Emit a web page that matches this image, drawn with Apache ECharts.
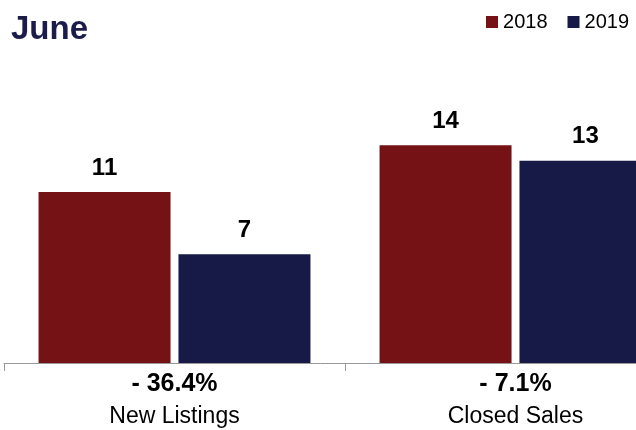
<!DOCTYPE html>
<html>
<head>
<meta charset="utf-8">
<script src="https://cdn.jsdelivr.net/npm/echarts@6/dist/echarts.min.js"></script>
<style>
  html, body { margin: 0; padding: 0; background: #fff; }
  #chart { width: 636px; height: 430px; }
</style>
</head>
<body>
<div id="chart"></div>
<script>
const categories = ["New Listings", "Closed Sales"];
const changes = ["- 36.4%", "- 7.1%"];
const values2018 = [11, 14];
const values2019 = [7, 13];

const chart = echarts.init(document.getElementById("chart"));

const valueLabel = {
  show: true,
  position: "top",
  distance: 12,
  color: "#000",
  fontSize: 24,
  fontWeight: "bold",
  fontFamily: "Liberation Sans, Arial, sans-serif",
};

const option = {
  animation: false,
  title: {
    text: "June",
    left: 6,
    top: 8,
    textStyle: {
      color: "#1b1c4a",
      fontSize: 33,
      fontWeight: "bold",
      fontFamily: "Liberation Sans, Arial, sans-serif",
    },
  },
  legend: {
    right: 2,
    top: 7,
    icon: "rect",
    itemWidth: 12,
    itemHeight: 12,
    itemGap: 20,
    textStyle: {
      color: "#000",
      fontSize: 20,
      fontFamily: "Liberation Sans, Arial, sans-serif",
    },
    data: ["2018", "2019"],
  },
  // grid runs past the right edge so the second group is cut off like the original
  grid: {
    left: 4,
    right: -50,
    top: 52,
    bottom: 67,
    outerBoundsMode: "none",
    containLabel: false,
  },
  xAxis: {
    type: "category",
    data: categories,
    axisLine: { lineStyle: { color: "#999", width: 1 } },
    axisTick: { show: true, length: 8, lineStyle: { color: "#999" } },
    axisLabel: {
      margin: 5,
      formatter: function (value, idx) {
        return "{a|" + changes[idx] + "}\n{b|" + value + "}";
      },
      rich: {
        a: {
          fontSize: 25,
          fontWeight: "bold",
          color: "#000",
          lineHeight: 32,
          fontFamily: "Liberation Sans, Arial, sans-serif",
        },
        b: {
          fontSize: 23,
          color: "#000",
          lineHeight: 34,
          fontFamily: "Liberation Sans, Arial, sans-serif",
        },
      },
    },
  },
  yAxis: {
    type: "value",
    min: 0,
    max: 20,
    show: false,
    splitLine: { show: false },
  },
  series: [
    {
      name: "2018",
      type: "bar",
      data: values2018,
      barWidth: 132,
      barGap: "6%",
      itemStyle: { color: "#741216" },
      label: valueLabel,
    },
    {
      name: "2019",
      type: "bar",
      data: values2019,
      barWidth: 132,
      barGap: "6%",
      itemStyle: { color: "#171a47" },
      label: valueLabel,
    },
  ],
};

chart.setOption(option);
</script>
</body>
</html>
